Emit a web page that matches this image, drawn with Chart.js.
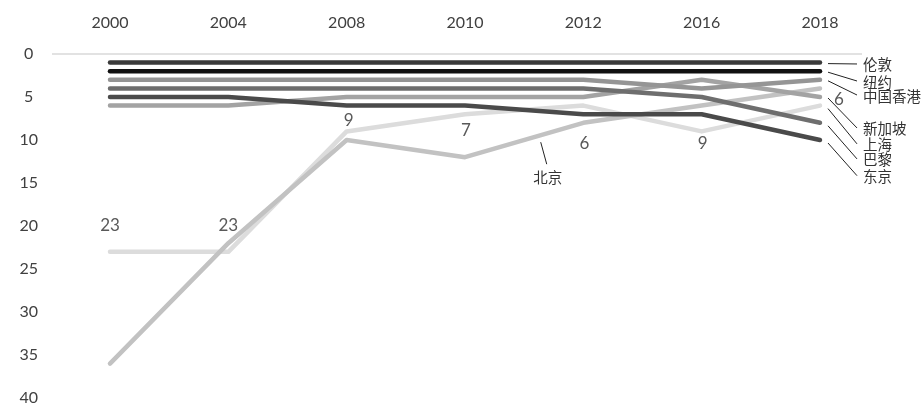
<!DOCTYPE html>
<html>
<head>
<meta charset="utf-8">
<script src="https://cdn.jsdelivr.net/npm/chart.js@4.4.1/dist/chart.umd.min.js"></script>
<style>
  html, body { margin: 0; background: #fff; overflow: hidden; }
  #wrap { width: 924px; height: 405px; }
</style>
</head>
<body>
<div id="wrap"><canvas id="myChart"></canvas></div>
<script>
// city rankings by year (lower = better)
const years = ["2000", "2004", "2008", "2010", "2012", "2016", "2018"];
const london = [1, 1, 1, 1, 1, 1, 1];
const newYork = [2, 2, 2, 2, 2, 2, 2];
const hongKong = [3, 3, 3, 3, 3, 4, 3];
const paris = [4, 4, 4, 4, 4, 5, 8];
const tokyo = [5, 5, 6, 6, 7, 7, 10];
const singapore = [6, 6, 5, 5, 5, 3, 5];
const beijing = [36, 22, 10, 12, 8, 6, 4];
const shanghai = [23, 23, 9, 7, 6, 9, 6];
const rankTicks = [0, 5, 10, 15, 20, 25, 30, 35, 40];

// names written at the right end, top to bottom
const sideNames = ["伦敦", "纽约", "中国香港", "新加坡", "上海", "巴黎", "东京"];

function line(label, data, color) {
    return {
        label: label,
        data: data,
        borderColor: color,
        borderWidth: 4.5,
        borderCapStyle: "round",
        borderJoinStyle: "round",
        pointRadius: 0,
        fill: false,
        tension: 0,
        clip: 6
    };
}

// light rule at rank 0, running a little past the plotted years
const zeroRule = {
    id: "zeroRule",
    beforeDatasetsDraw(chart) {
        const ctx = chart.ctx, a = chart.chartArea;
        const y = chart.scales.y.getPixelForValue(0);
        ctx.save();
        ctx.strokeStyle = "#d9d9d9";
        ctx.lineWidth = 1.5;
        ctx.beginPath();
        ctx.moveTo(a.left - 58, y);
        ctx.lineTo(a.right + 42, y);
        ctx.stroke();
        ctx.restore();
    }
};

// value labels on the shanghai line, nudged like the original
const valueLabels = {
    id: "valueLabels",
    afterDatasetsDraw(chart) {
        const ctx = chart.ctx;
        const idx = chart.data.datasets.findIndex(d => d.label === "上海");
        const pts = chart.getDatasetMeta(idx).data;
        const nudge = [[0, -26], [0, -26], [2, -11], [1, 16], [1, 38], [1, 12], [19, -6]];
        ctx.save();
        ctx.font = "17px Lato";
        ctx.fillStyle = "#595959";
        ctx.textAlign = "center";
        ctx.textBaseline = "middle";
        pts.forEach(function (p, i) {
            ctx.fillText(String(shanghai[i]), p.x + nudge[i][0], p.y + nudge[i][1]);
        });
        ctx.restore();
    }
};

// series names with leader lines on the right, plus the beijing callout
const sideLabels = {
    id: "sideLabels",
    afterDatasetsDraw(chart) {
        const ctx = chart.ctx, xs = chart.scales.x, ys = chart.scales.y;
        const endX = xs.getPixelForValue(years.length - 1);
        const slots = [1.16, 3.14, 4.77, 8.6, 10.45, 12.2, 14.15];
        const drop = [1, 1, 1, 1, 3, 3, 3];
        ctx.save();
        ctx.strokeStyle = "#222";
        ctx.lineWidth = 1;
        ctx.fillStyle = "#333";
        ctx.font = "14.5px 'Noto Sans CJK SC'";
        ctx.textBaseline = "middle";
        sideNames.forEach(function (name, i) {
            const ds = chart.data.datasets.find(d => d.label === name);
            const y0 = ys.getPixelForValue(ds.data[ds.data.length - 1]) + drop[i];
            const y1 = ys.getPixelForValue(slots[i]);
            ctx.beginPath();
            ctx.moveTo(endX + 8, y0);
            ctx.lineTo(endX + 37, y1);
            ctx.stroke();
            ctx.fillText(name, endX + 43, y1 + 1);
        });

        // 北京 callout between 2010 and 2012
        const t = 0.64;
        const ax = xs.getPixelForValue(3), bx = xs.getPixelForValue(4);
        const ay = ys.getPixelForValue(beijing[3]), by = ys.getPixelForValue(beijing[4]);
        const px = ax + t * (bx - ax), py = ay + t * (by - ay);
        ctx.beginPath();
        ctx.moveTo(px, py + 7);
        ctx.lineTo(px + 6, py + 29);
        ctx.stroke();
        ctx.textAlign = "center";
        ctx.fillText("北京", px + 7, py + 42);
        ctx.restore();
    }
};

new Chart("myChart", {
    type: "line",
    data: {
        labels: years,
        datasets: [
            line("伦敦", london, "#3a3a3a"),
            line("纽约", newYork, "#111111"),
            line("中国香港", hongKong, "#959595"),
            line("巴黎", paris, "#6e6e6e"),
            line("东京", tokyo, "#4a4a4a"),
            line("新加坡", singapore, "#a3a3a3"),
            line("北京", beijing, "#c2c2c2"),
            line("上海", shanghai, "#dcdcdc")
        ]
    },
    options: {
        responsive: true,
        maintainAspectRatio: false,
        animation: false,
        layout: { padding: { top: 0, right: 104, bottom: 7, left: 0 } },
        plugins: {
            legend: { display: false },
            tooltip: { enabled: false }
        },
        scales: {
            x: {
                position: "top",
                offset: false,
                grid: { display: false, drawTicks: false },
                border: { display: false },
                ticks: { color: "#404040", font: { family: "Lato", size: 16 }, padding: 22, maxRotation: 0 },
                afterFit: function (s) { s.height = 54; s.paddingLeft = 0; s.paddingRight = 0; }
            },
            y: {
                reverse: true,
                min: 0,
                max: 40,
                afterBuildTicks: function (s) { s.ticks = rankTicks.map(v => ({ value: v })); },
                grid: { display: false, drawTicks: false },
                border: { display: false },
                ticks: { color: "#404040", font: { family: "Lato", size: 16 }, padding: 72, crossAlign: "center" },
                afterFit: function (s) { s.width = 110; s.paddingTop = 0; s.paddingBottom = 0; }
            }
        }
    },
    plugins: [zeroRule, valueLabels, sideLabels]
});
</script>
</body>
</html>
